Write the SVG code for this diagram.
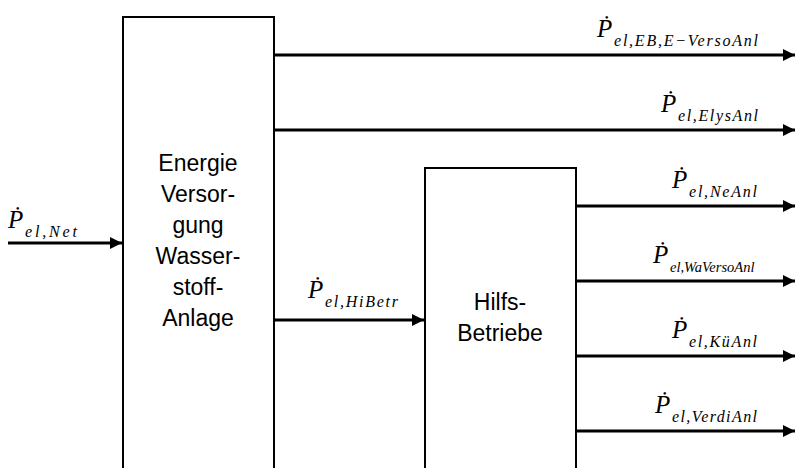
<svg xmlns="http://www.w3.org/2000/svg" width="795" height="468" viewBox="0 0 795 468">
<style>
.box{fill:#fff;stroke:#000;stroke-width:2}
.lbl{font-family:"Liberation Sans",Arial,sans-serif;font-size:23px;fill:#000;text-anchor:middle}
.P{font-family:"Liberation Serif","Times New Roman",serif;font-style:italic;font-size:25px;fill:#000}
.sub{font-family:"Liberation Serif","Times New Roman",serif;font-style:italic;font-size:16px;fill:#000}
.ln{stroke:#000;stroke-width:3;fill:none}
</style>
<defs>
<marker id="ah" markerUnits="userSpaceOnUse" markerWidth="12" markerHeight="12" refX="10" refY="5" orient="auto" viewBox="0 0 10 10">
<path d="M0,0 L10,5 L0,10 Z" fill="#000"/>
</marker>
</defs>
<g id="node-energie">
<path class="box" d="M123,470 V17 H274 V470"/>
<text class="lbl" x="198" y="171">Energie</text>
<text class="lbl" x="198" y="202">Versor-</text>
<text class="lbl" x="198" y="233">gung</text>
<text class="lbl" x="198" y="264">Wasser-</text>
<text class="lbl" x="198" y="295">stoff-</text>
<text class="lbl" x="198" y="326">Anlage</text>
</g>
<g id="node-hilfs">
<path class="box" d="M425,470 V168 H576 V470"/>
<text class="lbl" x="500" y="310">Hilfs-</text>
<text class="lbl" x="500" y="341">Betriebe</text>
</g>
<g id="connectors">
<line class="ln" x1="8" y1="243" x2="122" y2="243" marker-end="url(#ah)"/>
<line class="ln" x1="275" y1="320" x2="424" y2="320" marker-end="url(#ah)"/>
<line class="ln" x1="275" y1="55" x2="795" y2="55" marker-end="url(#ah)"/>
<line class="ln" x1="275" y1="130" x2="795" y2="130" marker-end="url(#ah)"/>
<line class="ln" x1="577" y1="206" x2="795" y2="206" marker-end="url(#ah)"/>
<line class="ln" x1="577" y1="281" x2="795" y2="281" marker-end="url(#ah)"/>
<line class="ln" x1="577" y1="356" x2="795" y2="356" marker-end="url(#ah)"/>
<line class="ln" x1="577" y1="431" x2="795" y2="431" marker-end="url(#ah)"/>
</g>
<g id="labels">
<text class="P" x="8" y="228">Ṗ</text><text class="sub" x="25" y="237" textLength="52" lengthAdjust="spacing">el,Net</text>
<text class="P" x="308" y="298">Ṗ</text><text class="sub" x="325" y="307" textLength="73" lengthAdjust="spacing">el,HiBetr</text>
<text class="P" x="597" y="37">Ṗ</text><text class="sub" x="614" y="46" textLength="144" lengthAdjust="spacing">el,EB,E−VersoAnl</text>
<text class="P" x="661" y="112">Ṗ</text><text class="sub" x="678" y="121" textLength="80" lengthAdjust="spacing">el,ElysAnl</text>
<text class="P" x="672" y="188">Ṗ</text><text class="sub" x="689" y="197" textLength="68" lengthAdjust="spacing">el,NeAnl</text>
<text class="P" x="653" y="263">Ṗ</text><text class="sub" x="670" y="272" style="font-size:14.5px">el,WaVersoAnl</text>
<text class="P" x="672" y="338">Ṗ</text><text class="sub" x="689" y="347" textLength="68" lengthAdjust="spacing">el,KüAnl</text>
<text class="P" x="655" y="413">Ṗ</text><text class="sub" x="672" y="422" textLength="85" lengthAdjust="spacing">el,VerdiAnl</text>
</g>
</svg>
